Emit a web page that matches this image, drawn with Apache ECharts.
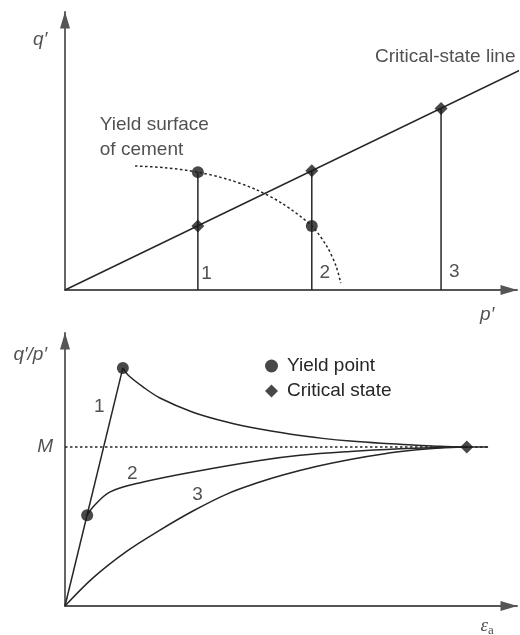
<!DOCTYPE html>
<html>
<head>
<meta charset="utf-8">
<script src="https://cdn.jsdelivr.net/npm/echarts@6/dist/echarts.min.js"></script>
<style>
  html, body { margin: 0; padding: 0; background: #fff; }
  #chart { width: 520px; height: 635px; }
</style>
</head>
<body>
<div id="chart"></div>
<script>
// ---- Upper panel: stress paths in q'–p' space ----
const sampleNames = ['1', '2', '3'];
const sampleP = [29.4, 54.6, 83.2];          // mean effective stress of each test
const sampleTopQ = [42.4, 42.9, 65.3];       // top of each vertical stress path
const criticalStateLine = [[0, 0], [100.7, 79.1]];
const yieldSurface = [
  [15.5, 44.6], [22.0, 44.0], [29.4, 42.4], [36.0, 39.8], [42.0, 36.3],
  [48.0, 31.2], [54.6, 23.0], [58.0, 15.5], [60.0, 8.5], [61.0, 2.5]
];
const upperYieldPoints = [[29.4, 42.4], [54.6, 23.0]];
const upperCriticalPoints = [[29.4, 23.0], [54.6, 42.9], [83.2, 65.3]];

// ---- Lower panel: stress ratio against axial strain ----
const M = 58.2;
const strainEnd = 93.6;
const curve1Rise = [[0, 0], [12.8, 87.2]];
const curve1Soften = [
  [12.8, 87.2], [14.0, 84.5], [17.3, 80.2], [21.0, 76.2], [28.3, 71.0],
  [35.8, 67.4], [43.1, 64.8], [50.0, 62.9], [57.0, 61.4], [63.1, 60.4],
  [70.0, 59.6], [77.0, 59.0], [83.0, 58.5], [88.9, 58.2], [93.6, 58.2]
];
const curve2 = [
  [4.9, 33.2], [6.2, 36.3], [10.0, 41.8], [17.3, 45.4], [28.3, 49.1],
  [43.1, 53.3], [52.0, 55.2], [63.1, 56.6], [74.1, 57.6], [81.4, 58.0], [88.9, 58.2]
];
const curve3 = [
  [0, 0], [6.2, 10.3], [13.7, 20.1], [21.0, 27.8], [28.3, 34.8], [35.8, 41.0],
  [43.1, 45.4], [48.2, 48.0], [55.8, 51.2], [63.1, 53.7], [70.4, 55.7],
  [77.9, 57.2], [83.0, 57.9], [88.9, 58.2]
];
const lowerYieldPoints = [[12.8, 87.2], [4.9, 33.2]];
const lowerCriticalPoints = [[88.9, 58.2]];

const FONT = 'Liberation Sans, Arial, sans-serif';
const INK = '#262626';
const AXIS = '#555';

function valueAxis(gridIndex) {
  return {
    type: 'value', gridIndex, min: 0, max: 100,
    axisLine: {
      show: true, onZero: false,
      lineStyle: { color: AXIS, width: 1.8 },
      symbol: ['none', 'triangle'], symbolSize: [10, 17], symbolOffset: [0, -8]
    },
    axisTick: { show: false }, axisLabel: { show: false }, splitLine: { show: false }
  };
}

function curve(data, gridIndex, extra) {
  return Object.assign({
    type: 'line', xAxisIndex: gridIndex, yAxisIndex: gridIndex, data,
    symbol: 'none', silent: true, clip: false,
    lineStyle: { color: INK, width: 1.5 }
  }, extra || {});
}

function markers(name, data, gridIndex, symbol, size) {
  return {
    name, type: 'scatter', xAxisIndex: gridIndex, yAxisIndex: gridIndex, data,
    symbol, symbolSize: size, silent: true, z: 5,
    itemStyle: { color: '#1a1a1a' }
  };
}

// text anchored in data coordinates of a panel
function texts(gridIndex, items) {
  return {
    type: 'scatter', xAxisIndex: gridIndex, yAxisIndex: gridIndex, silent: true, clip: false,
    symbolSize: 0, itemStyle: { color: 'rgba(0,0,0,0)' }, z: 6,
    data: items.map(it => ({
      value: [it[0], it[1]], name: it[2],
      label: Object.assign({
        show: true, position: 'inside', formatter: '{b}',
        color: INK, fontFamily: FONT, fontSize: 19
      }, it[3] || {})
    }))
  };
}

const italic = { fontStyle: 'italic' };
const dotted = { color: INK, width: 1.5, type: [2.5, 2.5] };

const series = [];

// upper panel
series.push(curve(criticalStateLine, 0));
series.push(curve(yieldSurface, 0, { smooth: 0.3, lineStyle: dotted }));
sampleNames.forEach((s, i) => {
  series.push(curve([[sampleP[i], 0], [sampleP[i], sampleTopQ[i]]], 0));
});
series.push(markers('Yield point', upperYieldPoints, 0, 'circle', 12));
series.push(markers('Critical state', upperCriticalPoints, 0, 'diamond', 13));
series.push(texts(0, [
  [31.3, 5.9, sampleNames[0]],
  [57.5, 6.1, sampleNames[1]],
  [86.1, 6.5, sampleNames[2]],
  [68.6, 83.8, 'Critical-state line', { align: 'left' }],
  [7.7, 54.9, 'Yield surface\nof cement', { align: 'left', lineHeight: 25 }],
  [-5.5, 89.9, 'q′', italic],
  [93.4, -9.0, 'p′', italic]
]));

// lower panel
series.push(curve([[0, M], [strainEnd, M]], 1, { lineStyle: dotted }));
series.push(curve(curve1Rise, 1));
series.push(curve(curve1Soften, 1, { smooth: 0.35 }));
series.push(curve(curve2, 1, { smooth: 0.35 }));
series.push(curve(curve3, 1, { smooth: 0.35 }));
series.push(markers('Yield point', lowerYieldPoints, 1, 'circle', 12));
series.push(markers('Critical state', lowerCriticalPoints, 1, 'diamond', 13));
series.push(texts(1, [
  [7.6, 73.1, '1'],
  [14.9, 48.5, '2'],
  [29.3, 40.7, '3'],
  [-4.4, M, 'M', italic],
  [-7.7, 91.9, 'q′/p′', italic],
  [93.4, -7.3, 'ε_a', {
    formatter: '{e|ε}{s|a}',
    rich: {
      e: { fontFamily: 'Liberation Serif, serif', fontStyle: 'italic', fontSize: 19, color: INK },
      s: { fontFamily: 'Liberation Serif, serif', fontSize: 13, color: INK, padding: [10, 0, 0, 0] }
    }
  }]
]));

const chart = echarts.init(document.getElementById('chart'), null, { renderer: 'canvas' });
chart.setOption({
  animation: false,
  backgroundColor: '#fff',
  grid: [
    { left: 65, right: 3, top: 12, bottom: 345 },
    { left: 65, right: 3, top: 333, bottom: 29 }
  ],
  xAxis: [valueAxis(0), valueAxis(1)],
  yAxis: [valueAxis(0), valueAxis(1)],
  legend: {
    data: ['Yield point', 'Critical state'],
    orient: 'vertical', left: 260, top: 351,
    itemWidth: 13, itemHeight: 13, itemGap: 5,
    selectedMode: false,
    textStyle: { fontFamily: FONT, fontSize: 19, color: INK, lineHeight: 20, padding: [0, 0, 0, 4] }
  },
  series
});
</script>
</body>
</html>
